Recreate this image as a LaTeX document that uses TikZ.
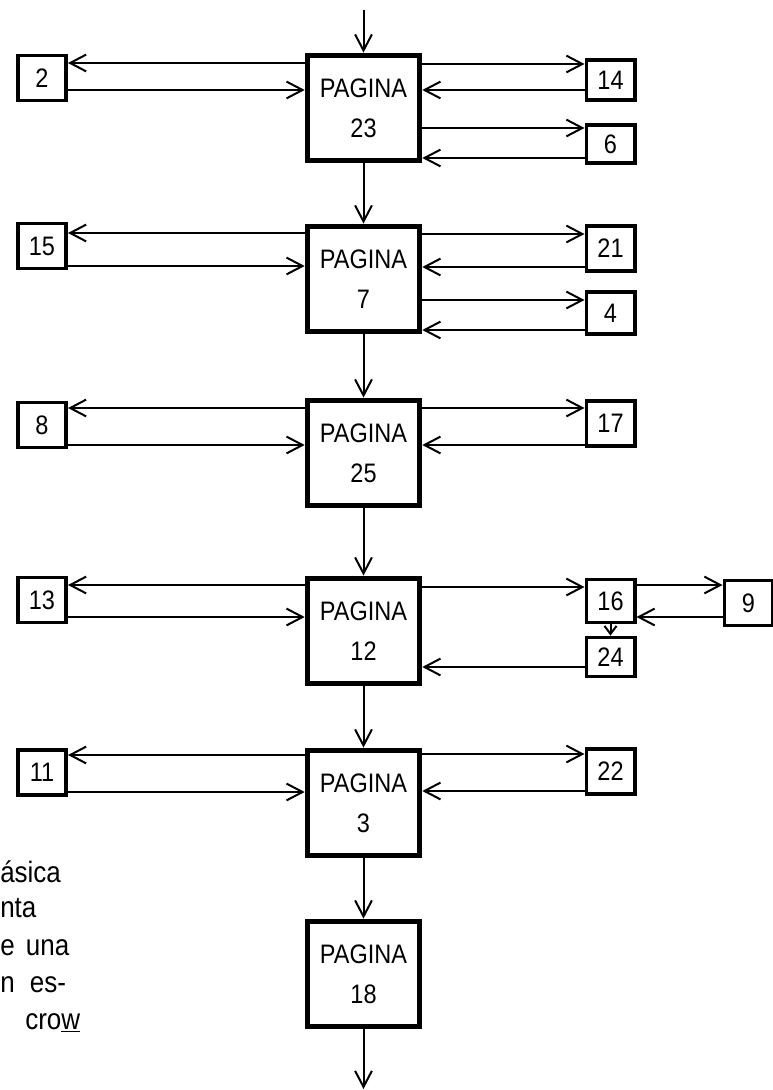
\documentclass[tikz,border=0pt]{standalone}
\usepackage{fontspec}
\setmainfont[FakeStretch=0.88]{Liberation Sans}
\usetikzlibrary{arrows.meta}

\begin{document}
\begin{tikzpicture}[x=0.025cm,y=-0.025cm,>={Straight Barb[length=0.4cm,width=0.42cm]},
  font=\fontsize{19}{28.5}\selectfont,
  pag/.style={draw,line width=0.14cm,minimum width=2.8cm,minimum height=2.63cm,align=center,inner sep=0pt},
  hoja/.style={draw,line width=0.09cm,minimum width=1.21cm,minimum height=1.12cm,inner sep=0pt},
  nota/.style={anchor=base west,inner sep=0pt,font=\fontsize{21}{25}\selectfont},
  flecha/.style={->,line width=0.05cm},
  corta/.style={-{Straight Barb[length=0.2cm,width=0.3cm]},line width=0.05cm}]
\useasboundingbox (0,0) rectangle (773,1090);
% cadena de paginas
\node[pag] (p23) at (363.5,108) {PAGINA\\23};
\node[pag] (p7) at (363.5,279) {PAGINA\\7};
\node[pag] (p25) at (363.5,453) {PAGINA\\25};
\node[pag] (p12) at (363.5,631) {PAGINA\\12};
\node[pag] (p3) at (363.5,803) {PAGINA\\3};
\node[pag] (p18) at (363.5,974) {PAGINA\\18};
\coordinate (entrada) at (363.5,10);
\coordinate (salida) at (363.5,1089);
% hojas a la izquierda
\node[hoja] (b2) at (42,78) {2};
\node[hoja] (b15) at (42,246) {15};
\node[hoja] (b8) at (42,425) {8};
\node[hoja] (b13) at (42,600) {13};
\node[hoja] (b11) at (42,772.5) {11};
% hojas a la derecha
\node[hoja,minimum height=1cm] (b14) at (610.5,80) {14};
\node[hoja,minimum height=0.95cm] (b6) at (610.5,144) {6};
\node[hoja] (b21) at (610.5,248.5) {21};
\node[hoja,minimum height=1.05cm] (b4) at (610.5,313) {4};
\node[hoja] (b17) at (610.5,423.5) {17};
\node[hoja,minimum height=1.08cm] (b16) at (610.5,601) {16};
\node[hoja,minimum height=0.98cm] (b24) at (610.5,657) {24};
\node[hoja] (b9) at (748.5,603) {9};
\node[hoja] (b22) at (610.5,771.5) {22};

\draw[flecha] (entrada) -- (p23);
\foreach \a/\b in {p23/p7,p7/p25,p25/p12,p12/p3,p3/p18}
  \draw[flecha] (\a) -- (\b);
\draw[flecha] (p18) -- (salida);

\foreach \p/\b/\u/\d in {p23/b2/63/90,p7/b15/233/266,p25/b8/408/445,p12/b13/585/617,p3/b11/755/792}
{ \draw[flecha] (\p.west |- 0,\u) -- (\b.east |- 0,\u);
  \draw[flecha] (\b.east |- 0,\d) -- (\p.west |- 0,\d); }
\foreach \p/\b/\o/\i in {p23/b14/64/90,p23/b6/128/158,p7/b21/234/267,p7/b4/300/330,p25/b17/408/445,p3/b22/754/791}
{ \draw[flecha] (\p.east |- 0,\o) -- (\b.west |- 0,\o);
  \draw[flecha] (\b.west |- 0,\i) -- (\p.east |- 0,\i); }
\draw[flecha] (p12.east |- 0,587) -- (b16.west |- 0,587);
\draw[flecha] (b16.east |- 0,585) -- (b9.west |- 0,585);
\draw[flecha] (b9.west |- 0,617) -- (b16.east |- 0,617);
\draw[corta] (b16) -- (b24);
\draw[flecha] (b24.west |- 0,667) -- (p12.east |- 0,667);

% texto cortado al margen
\node[nota] (t1) at (0,882) {ásica};
\node[nota] (t2) at (0,917) {nta};
\node[nota] (t3) at (0,955) {e\hspace{0.1cm} una};
\node[nota] (t4) at (0,992) {n\hspace{0.2cm} es-};
\node[nota] (t5) at (25,1029) {cro\underline{w}};
\end{tikzpicture}
\end{document}
